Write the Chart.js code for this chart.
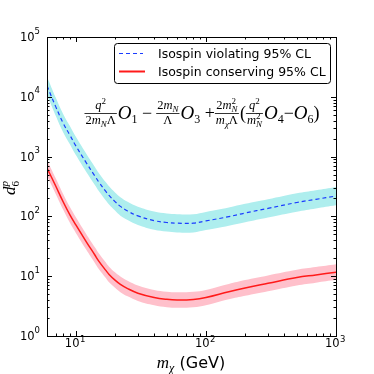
<!DOCTYPE html>
<html>
<head>
<meta charset="utf-8">
<script src="https://cdn.jsdelivr.net/npm/chart.js@4.4.0/dist/chart.umd.min.js"></script>
<style>
  html, body { margin: 0; padding: 0; background: #fff; }
  #wrap { width: 374px; height: 374px; }
</style>
</head>
<body>
<div id="wrap"><canvas id="chart" width="374" height="374"></canvas></div>
<script>
// dark matter mass grid (GeV)
const massGeV = [6, 7, 8, 9, 10, 12, 14, 15, 17, 18, 20, 22, 25, 30, 40, 50, 60, 80, 100, 150, 200, 300, 500, 700, 1000];

// isospin violating 95% CL (blue dashed) + band
const violCentral = [15300, 6850, 3610, 2280, 1510, 794, 474, 376, 261, 224, 177, 147, 123, 102, 85, 79, 77, 77, 84, 99, 114, 136, 171, 193, 219];
const violUpper = [21700, 9730, 5130, 3240, 2140, 1130, 673, 534, 371, 318, 251, 209, 175, 145, 121, 112, 109, 109, 119, 141, 162, 193, 243, 274, 311];
const violLower = [10800, 4820, 2540, 1610, 1060, 559, 334, 265, 184, 158, 125, 103, 87, 72, 60, 56, 54, 54, 59, 70, 80, 96, 120, 136, 154];

// isospin conserving 95% CL (red solid) + band
const consCentral = [645, 322, 174, 106, 72, 38, 22.6, 17.9, 12.5, 10.7, 8.6, 7.3, 6.2, 5.2, 4.4, 4.1, 4.0, 4.08, 4.4, 5.5, 6.35, 7.6, 9.5, 10.5, 11.7];
const consUpper = [871, 435, 235, 143, 97, 51, 30.5, 24.2, 16.9, 14.4, 11.6, 9.9, 8.4, 7.0, 5.9, 5.5, 5.4, 5.5, 5.9, 7.4, 8.6, 10.3, 12.8, 14.2, 15.8];
const consLower = [477, 238, 129, 78, 53, 28, 16.7, 13.2, 9.3, 7.9, 6.4, 5.4, 4.6, 3.85, 3.26, 3.03, 2.96, 3.02, 3.26, 4.1, 4.7, 5.6, 7.0, 7.8, 8.7];

// axis ticks
const xMajor = [10, 100, 1000];
const xMajorExp = ["1", "2", "3"];
const yMajor = [1, 10, 100, 1000, 10000, 100000];
const yMajorExp = ["0", "1", "2", "3", "4", "5"];

const legendLabels = ["Isospin violating 95% CL", "Isospin conserving 95% CL"];

const COLORS = {
  blue: "#1a3cff",
  cyan: "#aeeeee",
  red: "#ff1a1a",
  pink: "#ffc0cb",
};

const pts = (ys) => massGeV.map((m, i) => ({ x: m, y: ys[i] }));

function minorsBetween(lo, hi) {
  const out = [];
  for (let d = 1; d <= 1000; d *= 10) {
    for (let k = 2; k <= 9; k++) {
      const v = k * d;
      if (v > lo && v < hi) out.push(v);
    }
  }
  return out;
}

const SANS = '"DejaVu Sans"';
const SERIF = '"Liberation Serif"';

function fnt(size, style) {
  return (style === "it" ? "italic " : "") + size + "px " + (style === "sans" ? SANS : SERIF);
}

// tiny mathtext-like layout: tokens {t, s, f, sub, sup, ss} / {frac:[num,den]} / {gap}
function drawRun(ctx, x, y, toks, draw) {
  let cx = x;
  for (const k of toks) {
    if (k.gap) { cx += k.gap; continue; }
    if (k.frac) { cx += drawFrac(ctx, cx, y, k.frac[0], k.frac[1], draw); continue; }
    ctx.font = fnt(k.s, k.f);
    const w = ctx.measureText(k.t).width;
    if (draw) ctx.fillText(k.t, cx, y + (k.dy || 0));
    cx += w;
    if (k.sub || k.sup) {
      const ss = k.ss || Math.round(k.s * 0.68);
      let ws = 0;
      if (k.sub) {
        ctx.font = fnt(ss, k.subf || "it");
        if (draw) ctx.fillText(k.sub, cx, y + (k.dy || 0) + k.s * 0.22);
        ws = Math.max(ws, ctx.measureText(k.sub).width);
      }
      if (k.sup) {
        ctx.font = fnt(ss, k.supf || "rm");
        if (draw) ctx.fillText(k.sup, cx, y + (k.dy || 0) - k.s * 0.42);
        ws = Math.max(ws, ctx.measureText(k.sup).width);
      }
      cx += ws;
    }
  }
  return cx - x;
}

function drawFrac(ctx, x, y, num, den, draw) {
  const wn = drawRun(ctx, 0, 0, num, false);
  const wd = drawRun(ctx, 0, 0, den, false);
  const w = Math.max(wn, wd) + 2;
  const barY = y - 6;
  if (draw) {
    drawRun(ctx, x + (w - wn) / 2, barY - 4, num, true);
    drawRun(ctx, x + (w - wd) / 2, barY + 11, den, true);
    ctx.save();
    ctx.strokeStyle = "#000";
    ctx.lineWidth = 0.8;
    ctx.beginPath();
    ctx.moveTo(x, barY + 0.5);
    ctx.lineTo(x + w, barY + 0.5);
    ctx.stroke();
    ctx.restore();
  }
  return w + 1;
}

const FS = 12.5; // fraction text size
const OS = 19; // main operator size
const opO = (n) => ({ t: "O", s: OS, f: "it", sub: n, subf: "rm", ss: 12 });
const formula = [
  { frac: [[{ t: "q", s: FS, f: "it", sup: "2", ss: 9 }],
           [{ t: "2", s: FS, f: "rm" }, { t: "m", s: FS, f: "it", sub: "N", ss: 9 }, { t: "Λ", s: FS, f: "rm" }]] },
  opO("1"),
  { t: " \u2212", s: 18, f: "rm" }, { gap: 4 },
  { frac: [[{ t: "2", s: FS, f: "rm" }, { t: "m", s: FS, f: "it", sub: "N", ss: 9 }],
           [{ t: "Λ", s: FS, f: "rm" }]] },
  opO("3"),
  { t: " +", s: 18, f: "rm" },
  { frac: [[{ t: "2", s: FS, f: "rm" }, { t: "m", s: FS, f: "it", sub: "N", sup: "2", ss: 9 }],
           [{ t: "m", s: FS, f: "it", sub: "χ", ss: 9 }, { t: "Λ", s: FS, f: "rm" }]] },
  { t: "(", s: 18, f: "rm" },
  { frac: [[{ t: "q", s: FS, f: "it", sup: "2", ss: 9 }],
           [{ t: "m", s: FS, f: "it", sub: "N", sup: "2", ss: 9 }]] },
  opO("4"),
  { t: "\u2212", s: 18, f: "rm" },
  opO("6"),
  { t: ")", s: 18, f: "rm" },
];

const decorPlugin = {
  id: "decor",
  afterDraw(chart) {
    const { ctx, chartArea: a, scales } = chart;
    const xs = scales.x, ys = scales.y;
    ctx.save();
    ctx.strokeStyle = "#000";
    ctx.fillStyle = "#000";
    ctx.lineWidth = 1;

    // ticks on all four sides, pointing in
    const tick = (x1, y1, x2, y2) => { ctx.beginPath(); ctx.moveTo(x1, y1); ctx.lineTo(x2, y2); ctx.stroke(); };
    xMajor.forEach((v) => {
      const px = Math.round(xs.getPixelForValue(v)) + 0.5;
      tick(px, a.bottom, px, a.bottom - 5);
      tick(px, a.top, px, a.top + 5);
    });
    minorsBetween(xs.min, xs.max).forEach((v) => {
      const px = Math.round(xs.getPixelForValue(v)) + 0.5;
      tick(px, a.bottom, px, a.bottom - 2.5);
      tick(px, a.top, px, a.top + 2.5);
    });
    yMajor.forEach((v) => {
      const py = Math.round(ys.getPixelForValue(v)) + 0.5;
      tick(a.left, py, a.left + 5, py);
      tick(a.right, py, a.right - 5, py);
    });
    minorsBetween(ys.min, ys.max).forEach((v) => {
      const py = Math.round(ys.getPixelForValue(v)) + 0.5;
      tick(a.left, py, a.left + 2.5, py);
      tick(a.right, py, a.right - 2.5, py);
    });

    // frame
    ctx.strokeRect(Math.round(a.left) + 0.5, Math.round(a.top) + 0.5,
      Math.round(a.right - a.left), Math.round(a.bottom - a.top));

    // tick labels "10^n"
    ctx.textBaseline = "alphabetic";
    ctx.textAlign = "left";
    const baseF = "11.5px " + SANS, expF = "8.5px " + SANS;
    yMajor.forEach((v, i) => {
      const py = ys.getPixelForValue(v);
      ctx.font = expF;
      const we = ctx.measureText(yMajorExp[i]).width;
      ctx.font = baseF;
      const wb = ctx.measureText("10").width;
      const right = a.left - 7;
      ctx.fillText("10", right - we - wb, py + 4);
      ctx.font = expF;
      ctx.fillText(yMajorExp[i], right - we, py - 3.5);
    });
    xMajor.forEach((v, i) => {
      const px = xs.getPixelForValue(v);
      ctx.font = expF;
      const we = ctx.measureText(xMajorExp[i]).width;
      ctx.font = baseF;
      const wb = ctx.measureText("10").width;
      const left = px - 1 - (wb + we) / 2;
      ctx.fillText("10", left, a.bottom + 11);
      ctx.font = expF;
      ctx.fillText(xMajorExp[i], left + wb + 0.5, a.bottom + 6);
    });

    // x axis title: m_chi (GeV)
    const xTitle = [{ t: "m", s: 17, f: "it", sub: "χ", ss: 12 }, { t: " (GeV)", s: 16, f: "sans" }];
    const wx = drawRun(ctx, 0, 0, xTitle, false);
    drawRun(ctx, 191 - wx / 2, 368, xTitle, true);

    // y axis title: d_6^p
    ctx.save();
    ctx.translate(15, 188);
    ctx.rotate(-Math.PI / 2);
    const yTitle = [{ t: "d", s: 17, f: "it", sub: "6", sup: "p", ss: 11, subf: "rm", supf: "it" }];
    const wy = drawRun(ctx, 0, 0, yTitle, false);
    drawRun(ctx, -wy / 2, 0, yTitle, true);
    ctx.restore();

    // legend box
    ctx.beginPath();
    ctx.roundRect(114.5, 43.5, 216, 40, 3);
    ctx.fillStyle = "#fff";
    ctx.fill();
    ctx.strokeStyle = "#000";
    ctx.stroke();
    ctx.lineWidth = 1.2;
    ctx.strokeStyle = COLORS.blue;
    ctx.setLineDash([4, 3]);
    tick(119, 53.5, 143, 53.5);
    ctx.setLineDash([]);
    ctx.lineWidth = 2;
    ctx.strokeStyle = COLORS.red;
    tick(119, 71.5, 145, 71.5);
    ctx.fillStyle = "#000";
    ctx.font = "12.5px " + SANS;
    ctx.fillText(legendLabels[0], 158, 58);
    ctx.fillText(legendLabels[1], 158, 75.5);

    // operator formula
    const wf = drawRun(ctx, 0, 0, formula, false);
    drawRun(ctx, 202 - wf / 2, 119, formula, true);

    ctx.restore();
  },
};

new Chart(document.getElementById("chart"), {
  type: "line",
  data: {
    datasets: [
      { data: pts(violUpper), borderWidth: 0, backgroundColor: COLORS.cyan, fill: "+1", order: 3 },
      { data: pts(violLower), borderWidth: 0, fill: false, order: 3 },
      { data: pts(consUpper), borderWidth: 0, backgroundColor: COLORS.pink, fill: "+1", order: 2 },
      { data: pts(consLower), borderWidth: 0, fill: false, order: 2 },
      { data: pts(violCentral), borderColor: COLORS.blue, borderWidth: 1.2, borderDash: [4, 3], fill: false, order: 1 },
      { data: pts(consCentral), borderColor: COLORS.red, borderWidth: 1.5, fill: false, order: 0 },
    ],
  },
  options: {
    responsive: false,
    animation: false,
    events: [],
    layout: { padding: { left: 47, right: 38, top: 37, bottom: 38 } },
    elements: { point: { radius: 0 }, line: { tension: 0.4 } },
    plugins: { legend: { display: false }, tooltip: { enabled: false } },
    scales: {
      x: { type: "logarithmic", min: 6, max: 1000, display: false },
      y: { type: "logarithmic", min: 1, max: 100000, display: false },
    },
  },
  plugins: [decorPlugin],
});
</script>
</body>
</html>
